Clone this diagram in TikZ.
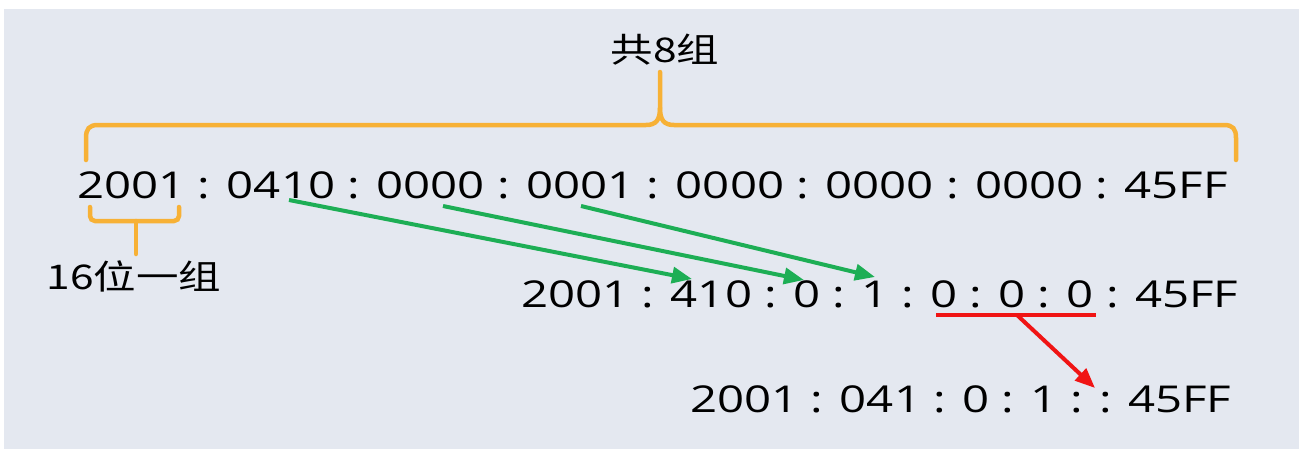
\documentclass[tikz,border=0pt]{standalone}
\usepackage{fontspec}
\setmainfont{Open Sans}[FakeStretch=1.28]
\newfontfamily\cjk{Noto Sans CJK SC}[FakeStretch=1.25]
\usepackage{xcolor}
\usetikzlibrary{arrows.meta, positioning}

\definecolor{panelbg}{HTML}{E4E8F0}
\definecolor{braceorange}{HTML}{F7B136}
\definecolor{movegreen}{HTML}{1DAE55}
\definecolor{cutred}{HTML}{F01414}

\begin{document}
\begin{tikzpicture}[x=1pt, y=-1pt,
			addr/.style={inner sep=0pt, anchor=base west, font=\fontsize{37}{40}\selectfont},
			note/.style={inner sep=0pt, font=\cjk\fontsize{34}{38}\selectfont},
			brace/.style={braceorange, line width=4.5pt, line cap=round},
			arrow/.style={movegreen, line width=4pt, -{Triangle[length=20pt,width=16pt]}},
			cut/.style={cutred, line width=4pt}
			]
			
			% Background
			\useasboundingbox (0,0) rectangle (1299,450);
			\fill[panelbg] (4,9) rectangle (1299,449);
			
			% Nodes
			\node (full) [addr] at (77,198) {2001 : 0410 : 0000 : 0001 : 0000 : 0000 : 0000 : 45FF};
			\node (zipped) [addr] at (521,307) {2001 : 410 : 0 : 1 : 0 : 0 : 0 : 45FF};
			\node (short) [addr] at (690,412) {2001 : 041 : 0 : 1 : : 45FF};
			\node (total) [note] at (665,50) {共8组};
			\node (group) [note] at (134,276) {16位一组};
			
			% Braces
			\draw [brace] (86,160) -- (86,138) .. controls (86,129) and (89,125) .. (98,125) -- (646,125) .. controls (656,125) and (660,120) .. (660,108) -- (660,72);
			\draw [brace] (1236,160) -- (1236,138) .. controls (1236,129) and (1233,125) .. (1224,125) -- (674,125) .. controls (664,125) and (660,120) .. (660,108);
			\draw [brace, rounded corners=5pt] (90,207) -- (90,221) -- (179,221) -- (179,207);
			\draw [brace] (136,221) -- (136,254);
			
			% Connections
			\coordinate (from410) at (289,200);
			\coordinate (to410) at (692,279);
			\coordinate (from0) at (443,206);
			\coordinate (to0) at (804,280);
			\coordinate (from1) at (581,206);
			\coordinate (to1) at (875,277);
			\draw [arrow] (from410) -- (to410);
			\draw [arrow] (from0) -- (to0);
			\draw [arrow] (from1) -- (to1);
			
			\coordinate (zeroL) at (936,315);
			\coordinate (zeroR) at (1096,315);
			\coordinate (zeroM) at (1017,315);
			\coordinate (gap) at (1095,388);
			\draw [cut] (zeroL) -- (zeroR);
			\draw [cut, -{Triangle[length=20pt,width=16pt]}] (zeroM) -- (gap);
			
		\end{tikzpicture}
\end{document}
